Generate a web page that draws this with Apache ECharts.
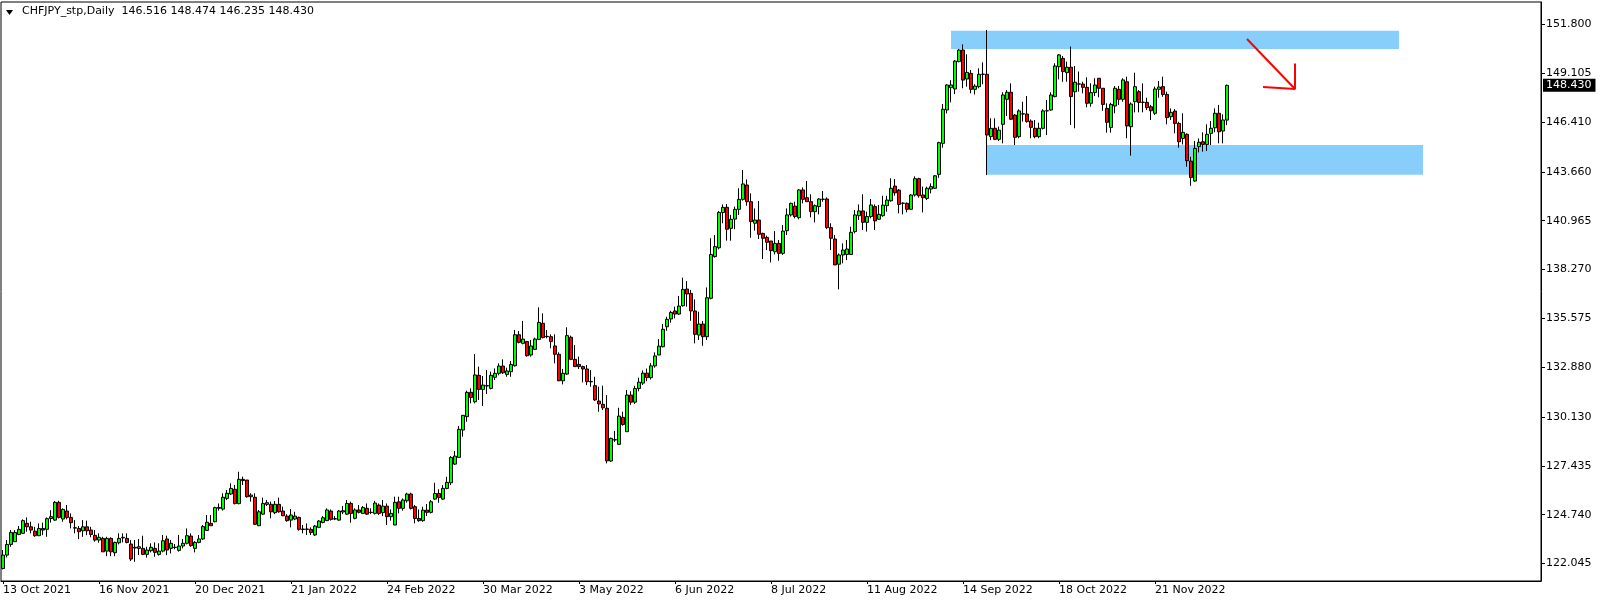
<!DOCTYPE html>
<html><head><meta charset="utf-8">
<script src="https://cdn.jsdelivr.net/npm/echarts@6/dist/echarts.min.js"></script>
<style>html,body{margin:0;padding:0;background:#fff;}#c{width:1604px;height:606px;}</style>
</head><body><div id="c"></div>
<script>
const symbolName = 'CHFJPY_stp,Daily';
const firstDate = '2021-10-13';
const totalSlots = 385;           // bars that fit in the window (incl. empty right margin)
const labelEvery = 24;
const lastLabelIndex = 288;

const open = [
121.77,122.51,123.10,123.25,123.65,123.71,124.26,124.07,123.83,123.58,
123.98,123.93,124.53,124.44,125.42,124.50,124.94,124.59,124.02,123.98,
123.85,124.07,123.89,123.60,123.34,123.43,122.73,123.43,122.64,123.19,
123.49,123.43,123.12,122.90,122.88,122.88,122.55,122.75,122.88,122.55,
122.73,123.40,122.88,122.94,122.77,123.01,123.16,123.56,122.88,123.21,
123.40,123.87,124.26,124.35,125.09,125.05,125.64,125.88,126.14,125.35,
126.69,126.65,125.73,125.70,124.13,124.77,125.31,125.31,124.85,125.31,
124.94,124.66,124.44,124.50,124.59,123.95,123.93,123.93,123.62,124.04,
124.31,124.41,124.94,124.50,124.44,124.89,124.77,125.36,124.54,125.00,
124.81,125.09,124.87,124.81,125.27,124.85,125.21,124.63,124.17,125.45,
125.09,125.51,125.88,125.18,124.53,124.41,124.99,124.87,125.60,125.91,
125.60,126.19,126.50,127.53,127.90,129.41,130.15,131.49,130.97,132.43,
131.65,131.86,131.71,132.32,132.54,132.94,132.48,132.63,132.96,134.67,
134.19,134.29,133.55,133.86,134.41,135.30,134.58,134.56,134.05,133.59,
132.13,132.50,134.53,133.31,133.03,132.91,132.78,132.09,131.86,131.01,
130.83,130.61,127.70,128.88,128.62,130.11,129.32,131.34,130.95,131.70,
132.00,132.55,132.30,132.95,133.55,134.01,135.11,135.54,135.98,135.81,
136.27,137.19,136.95,135.98,134.65,135.26,134.56,136.68,138.98,139.47,
141.41,141.70,140.54,141.05,141.59,142.14,142.93,142.01,140.82,141.00,
140.26,140.04,139.84,139.25,139.71,139.16,140.41,141.28,141.77,141.13,
142.66,142.23,142.01,141.46,141.74,142.15,142.16,140.58,139.95,138.56,
139.07,139.10,139.10,140.36,141.24,141.50,140.87,141.19,141.74,141.04,
141.24,141.79,142.06,142.87,142.65,141.93,141.92,141.59,142.38,143.28,
142.38,142.19,142.71,142.75,143.52,145.23,147.07,148.30,148.23,149.74,
150.38,148.78,149.09,148.21,148.36,149.05,149.04,145.60,146.06,145.45,
146.28,147.66,148.05,146.79,145.60,146.86,146.85,146.46,146.06,145.60,
146.06,147.03,147.07,147.81,149.46,149.92,149.13,149.43,148.08,148.51,
148.50,148.32,147.44,148.03,148.82,148.27,147.16,146.11,147.29,148.21,
147.66,148.63,146.15,147.53,148.08,147.50,147.49,147.25,146.89,148.21,
148.36,147.93,146.70,147.01,146.33,145.50,145.73,144.25,143.15,145.05,
145.32,145.17,145.78,146.09,146.89,145.91,146.516];

const high = [
122.79,123.34,123.89,123.89,124.11,124.48,124.59,124.35,124.07,124.26,
124.30,124.59,124.99,125.49,125.51,125.09,125.27,124.81,124.44,124.11,
124.44,124.41,124.07,123.89,123.71,123.52,123.52,123.49,123.25,123.71,
123.71,123.71,123.34,123.34,123.40,123.58,122.97,123.16,123.21,123.16,
123.62,123.58,123.34,123.12,123.62,123.40,123.98,123.71,123.28,123.62,
124.17,124.72,124.72,125.18,125.36,125.92,126.10,126.47,126.38,127.11,
126.84,126.65,125.92,125.92,125.00,125.68,125.55,125.46,125.49,125.68,
125.18,124.77,125.05,124.90,124.63,124.17,124.26,124.04,124.17,124.44,
124.66,125.09,125.03,124.66,125.00,125.22,125.55,125.46,125.09,125.27,
125.22,125.36,125.09,125.50,125.36,125.55,125.36,125.03,125.73,125.73,
125.64,125.95,125.95,125.27,125.03,125.18,125.33,125.55,126.50,126.14,
126.37,126.83,127.97,128.25,129.63,130.24,131.58,131.71,133.60,132.91,
132.39,132.72,132.63,132.81,133.09,133.31,132.85,133.22,134.93,134.87,
135.43,134.33,134.38,134.51,136.18,135.85,134.93,134.69,134.69,133.70,
132.78,135.08,134.62,134.10,133.46,132.96,133.00,132.72,132.35,131.80,
131.86,131.34,128.99,129.36,130.64,130.42,131.62,131.55,131.85,132.30,
132.70,132.80,133.10,133.70,134.43,135.26,135.66,135.99,136.22,136.81,
137.82,137.63,137.14,136.62,135.94,135.43,137.28,139.99,140.17,141.50,
141.86,141.88,141.28,141.74,142.75,143.76,143.24,142.47,141.64,142.05,
140.30,140.14,139.84,140.39,139.90,140.72,141.64,141.96,142.01,142.71,
142.80,143.15,142.42,141.86,142.20,142.60,142.25,140.82,140.17,139.16,
139.71,139.90,140.63,141.55,141.86,142.42,141.46,142.16,141.86,141.83,
142.34,142.34,143.30,143.26,142.71,141.97,141.97,142.42,143.41,143.33,
142.84,142.84,143.02,143.48,145.32,147.40,148.49,148.72,149.83,150.44,
150.69,150.14,149.28,148.49,149.37,149.70,151.49,146.61,146.61,146.15,
148.05,148.17,148.54,146.85,147.11,147.53,147.84,146.55,146.52,146.37,
147.11,147.62,148.05,149.65,150.16,150.05,149.74,150.57,149.50,149.19,
148.63,148.87,148.54,148.82,148.82,148.27,147.44,147.47,148.39,148.39,
148.82,148.91,147.49,149.13,148.17,148.54,147.75,147.35,148.36,148.67,
148.91,148.08,147.16,147.12,146.42,146.89,145.78,144.49,145.36,145.50,
145.84,146.28,146.46,147.16,147.35,146.83,148.474];

const low = [
121.72,122.38,122.97,123.25,123.61,123.67,123.80,123.71,123.52,123.56,
123.61,123.52,124.30,124.40,124.53,124.35,124.48,123.98,123.71,123.39,
123.52,123.61,123.49,123.25,123.19,122.69,122.45,122.45,122.45,123.10,
123.21,123.16,122.18,122.14,122.51,122.51,122.37,122.66,122.42,122.48,
122.66,122.51,122.60,122.83,122.70,122.88,123.10,122.97,122.66,123.16,
123.34,123.84,124.13,124.32,124.96,124.96,125.55,125.82,125.31,125.31,
126.38,125.68,125.46,124.17,124.11,124.72,125.22,124.54,124.77,124.85,
124.66,124.35,124.04,124.44,123.86,123.71,123.62,123.62,123.56,124.00,
124.26,124.39,124.41,124.44,124.41,124.77,124.72,124.30,124.48,124.81,
124.77,124.72,124.77,124.75,124.72,124.66,124.17,124.41,124.17,124.81,
124.96,125.40,125.03,124.26,124.35,124.35,124.66,124.81,125.55,125.40,
125.55,126.14,126.37,127.48,127.90,129.04,129.87,130.88,130.88,131.07,
130.74,131.40,131.65,132.17,132.43,132.50,132.35,132.35,132.91,134.19,
134.14,133.46,133.46,133.83,134.38,134.47,134.47,133.92,133.09,132.11,
131.93,132.45,133.27,132.91,132.78,132.04,131.89,131.80,131.01,130.42,
130.51,127.57,127.66,128.76,128.58,129.65,129.32,130.80,130.85,131.55,
131.90,132.10,132.20,132.85,133.55,133.97,134.89,135.33,135.57,135.76,
136.22,136.22,135.44,134.19,134.38,134.06,134.38,136.62,138.92,139.38,
140.82,139.86,139.86,140.49,141.28,142.07,141.79,140.02,140.41,139.95,
138.85,139.34,138.66,139.10,138.75,139.07,140.17,141.19,141.09,141.04,
141.92,142.01,141.15,140.87,141.31,142.01,140.50,139.34,138.52,137.17,
138.61,138.79,139.07,140.26,141.00,140.45,140.36,141.09,140.45,141.00,
141.18,141.46,142.01,142.34,141.37,141.31,141.42,141.55,142.29,142.23,
141.42,142.10,142.47,142.71,143.33,144.99,146.88,147.49,147.95,149.70,
148.27,148.36,147.99,147.93,148.27,148.49,143.48,145.41,145.41,145.36,
145.23,146.74,146.52,145.14,145.51,146.43,146.37,145.51,145.51,145.51,
146.00,145.69,147.03,147.77,148.76,148.63,148.63,146.24,146.06,148.08,
147.99,147.22,147.25,147.84,147.77,147.03,145.82,145.82,146.89,147.35,
147.53,145.51,144.55,146.94,146.94,146.94,147.07,146.52,146.79,147.75,
147.80,146.28,146.52,145.78,144.99,145.17,143.94,142.89,143.11,144.73,
144.77,144.81,145.14,145.84,145.23,145.23,146.235];

const close = [
122.51,123.10,123.76,123.76,123.93,124.41,124.07,123.89,123.58,123.98,
123.89,124.52,124.63,125.42,124.59,125.03,124.59,124.30,124.00,123.80,
124.07,123.85,123.65,123.34,123.49,122.69,123.43,122.69,123.21,123.43,
123.46,123.21,122.29,122.94,122.97,122.55,122.79,122.94,122.66,122.73,
123.30,122.79,123.16,122.93,123.01,123.16,123.58,123.03,123.21,123.40,
124.08,124.32,124.13,125.13,125.14,125.70,125.92,126.19,125.35,126.69,
126.62,125.73,125.82,124.21,124.90,125.36,125.40,124.90,125.31,124.90,
124.68,124.41,124.72,124.66,123.93,123.92,123.95,123.75,124.11,124.39,
124.57,125.00,124.48,124.52,124.94,124.96,125.36,124.81,125.00,124.87,
125.14,124.77,124.86,125.38,124.81,125.21,124.63,124.81,125.42,125.09,
125.55,125.88,125.09,124.53,124.41,124.99,124.87,125.45,125.91,125.69,
126.19,126.52,127.90,127.97,129.45,130.22,131.49,131.20,132.45,131.65,
131.89,131.84,132.43,132.54,132.94,132.57,132.67,133.03,134.67,134.25,
134.43,133.51,134.05,134.43,135.35,134.51,134.56,134.29,133.59,132.13,
132.54,134.62,133.31,132.91,132.91,132.78,132.08,132.07,131.07,130.85,
130.64,127.71,128.95,128.86,130.18,129.72,131.34,130.95,131.70,132.05,
132.55,132.30,132.95,133.50,134.04,134.97,135.52,135.90,135.81,136.25,
137.17,136.92,135.98,134.69,135.26,134.56,136.71,139.10,139.53,141.42,
141.70,140.49,141.04,141.59,142.14,142.99,142.01,140.91,141.00,140.21,
139.99,139.77,139.31,139.71,139.16,140.39,141.28,141.92,141.19,142.66,
142.14,142.01,141.46,141.79,142.16,142.14,140.58,139.99,138.52,139.07,
139.34,139.40,140.32,141.28,141.50,140.87,141.19,141.83,140.95,141.31,
141.82,142.10,142.75,142.50,141.86,141.92,141.59,142.38,143.28,142.34,
142.23,142.75,142.84,143.44,145.27,147.11,148.45,148.45,149.77,150.38,
148.72,149.15,148.21,148.39,149.04,149.04,145.69,146.06,145.45,145.96,
147.90,148.05,146.56,145.56,147.02,146.85,146.43,146.11,145.60,146.06,
147.02,147.02,147.90,149.50,150.11,149.19,149.43,147.81,148.60,148.50,
148.32,147.44,148.03,148.45,148.27,147.38,146.39,147.38,148.27,147.66,
148.73,146.19,147.40,148.36,147.49,147.49,147.20,147.03,148.23,148.34,
147.93,146.65,146.94,146.33,145.32,145.84,144.27,143.34,144.95,145.29,
145.17,145.73,146.06,146.89,145.87,146.52,148.430];

const priceTicks = [151.800,149.105,146.410,143.660,140.965,138.270,135.575,132.880,130.130,127.435,124.740,122.045];
const priceMin = 121.08, priceMax = 153.03;

// drawn objects (bar index, price)
const zoneTop    = {from: 237, to: 349, lo: 150.43, hi: 151.45};
const zoneBottom = {from: 246, to: 355, lo: 143.50, hi: 145.14};
const arrowShaft = [[311, 150.99], [323, 148.23]];
const arrowHead  = [[315, 148.34], [323, 148.23], [323, 149.64]];

const MONTHS = ['Jan','Feb','Mar','Apr','May','Jun','Jul','Aug','Sep','Oct','Nov','Dec'];
function weekdayCategories(start, n) {
  const out = [];
  const d = new Date(start + 'T00:00:00Z');
  while (out.length < n) {
    const w = d.getUTCDay();
    if (w !== 0 && w !== 6) out.push(d.getUTCDate() + ' ' + MONTHS[d.getUTCMonth()] + ' ' + d.getUTCFullYear());
    d.setUTCDate(d.getUTCDate() + 1);
  }
  return out;
}
const categories = weekdayCategories(firstDate, totalSlots);
const candles = open.map((o, i) => [o, close[i], low[i], high[i]]);
const last = open.length - 1;
const lastPrice = close[last];
const header = symbolName + '  ' + [open[last], high[last], low[last], close[last]].map(v => v.toFixed(3)).join(' ');
const showLabel = (i) => i % labelEvery === 0 && i <= lastLabelIndex;
const FONT = 'DejaVu Sans';

const chart = echarts.init(document.getElementById('c'), null, {renderer: 'canvas'});
chart.setOption({
  animation: false,
  backgroundColor: '#ffffff',
  grid: {left: 1, right: 63, top: 2, bottom: 25, show: true, borderColor: '#000', borderWidth: 1, containLabel: false},
  xAxis: {
    type: 'category', data: categories, boundaryGap: true,
    axisLine: {show: true, lineStyle: {color: '#000', width: 1}},
    axisTick: {show: true, alignWithLabel: true, interval: showLabel, length: 3, lineStyle: {color: '#000'}},
    axisLabel: {interval: showLabel, align: 'left', color: '#000', fontSize: 11, fontFamily: FONT, margin: 4},
    splitLine: {show: false}
  },
  yAxis: {
    type: 'value', position: 'right', min: priceMin, max: priceMax, scale: true,
    axisLine: {show: true, lineStyle: {color: '#000', width: 1}},
    axisTick: {show: true, length: 4, customValues: priceTicks, lineStyle: {color: '#000'}},
    axisLabel: {customValues: priceTicks, formatter: v => v.toFixed(3), color: '#000', fontSize: 11, fontFamily: FONT, margin: 5},
    splitLine: {show: false}
  },
  series: [
    {
      type: 'candlestick', data: candles, barWidth: 3, z: 2,
      itemStyle: {color: '#00ff00', color0: '#ff0000', borderColor: '#000', borderColor0: '#000', borderColorDoji: '#000', borderWidth: 1},
      markArea: {
        silent: true,
        itemStyle: {color: '#87cefa', opacity: 1, borderWidth: 0},
        data: [
          [{xAxis: zoneTop.from, yAxis: zoneTop.hi}, {xAxis: zoneTop.to, yAxis: zoneTop.lo}],
          [{xAxis: zoneBottom.from, yAxis: zoneBottom.hi}, {xAxis: zoneBottom.to, yAxis: zoneBottom.lo}]
        ]
      },
      markLine: {
        silent: true, symbol: ['none', 'none'], z: 10,
        lineStyle: {color: 'rgba(0,0,0,0)', width: 1, type: 'solid'},
        label: {show: true, position: 'end', distance: 2, formatter: () => lastPrice.toFixed(3), opacity: 1,
          color: '#ffffff', backgroundColor: '#000000', fontSize: 11, fontFamily: FONT, padding: [1, 4, 1, 3]},
        emphasis: {disabled: true},
        data: [{yAxis: lastPrice}]
      }
    },
    {type: 'line', data: arrowShaft, symbol: 'none', silent: true, z: 5, lineStyle: {color: '#ff0000', width: 2}},
    {type: 'line', data: arrowHead, symbol: 'none', silent: true, z: 5, lineStyle: {color: '#ff0000', width: 2}}
  ],
  graphic: [
    {type: 'polygon', shape: {points: [[6, 10], [13, 10], [9.5, 15]]}, style: {fill: '#000'}},
    {type: 'text', left: 22, top: 6, style: {text: header, font: '11px "DejaVu Sans"', fill: '#000'}}
  ]
});
</script>
</body></html>
